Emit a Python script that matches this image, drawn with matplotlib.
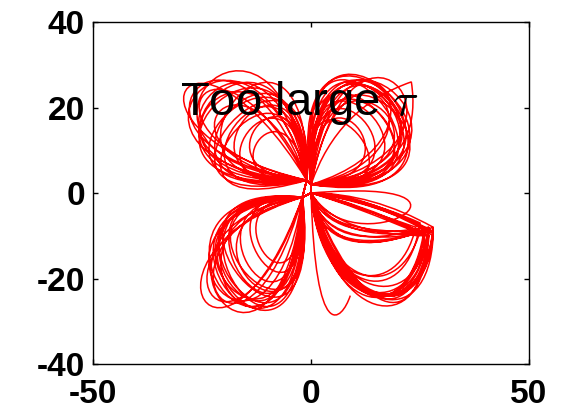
import matplotlib
matplotlib.use("Agg")
import matplotlib.pyplot as plt
from matplotlib.path import Path
from matplotlib.patches import PathPatch

# Delay-embedded trajectory, read off the picture as one Bezier loop per
# pass through each lobe: (outgoing control point, returning control point).
ul_out = [(-54, 0), (-52, 4), (-48, -4), (-55, 6), (-46, 0), (-42, -6), (-52, 10),
          (-38, 0), (-50, -8), (-54, 8), (-44, 12), (-34, -2), (-48, 14), (-55, -2),
          (-30, 4), (-50, 2), (-44, -10), (-40, 8), (-52, -4), (-26, 0)]
ul_back = [(-6, 56), (-10, 54), (-2, 52), (-14, 54), (0, 56), (-4, 46), (-18, 52),
           (-2, 44), (2, 50), (-8, 58), (-22, 46), (-4, 38), (-28, 48), (-4, 54),
           (-2, 36), (-12, 50), (-4, 44), (-16, 40), (0, 50), (-6, 30)]

ur_out = [(-4, 58), (-2, 54), (-6, 60), (0, 56), (-2, 48), (-8, 56), (4, 58),
          (-4, 46), (-6, 60), (2, 52), (6, 50), (0, 56), (-2, 42), (10, 54),
          (-4, 38), (2, 44), (-6, 52), (8, 46), (-2, 58), (0, 36)]
ur_back = [(50, -2), (48, 4), (48, -4), (52, 4), (44, 0), (50, 8), (48, -6),
           (40, 2), (52, 2), (50, -4), (38, 14), (46, 0), (34, 2), (44, 10),
           (32, -2), (42, 6), (46, -2), (36, 10), (52, 0), (28, 4)]

ll_out = [(-46, 2), (-44, 0), (-48, -2), (-40, 4), (-46, -8), (-46, 4), (-40, -10),
          (-44, 2), (-42, -6), (-48, 0), (-34, 0), (-42, -12), (-46, -2), (-44, -14),
          (-30, 2), (-46, -4), (-38, -6), (-48, 2), (-26, 0), (-42, 0)]
ll_back = [(0, -58), (-4, -56), (2, -60), (-2, -54), (-8, -58), (4, -56), (-16, -52),
           (0, -60), (-6, -56), (-2, -60), (-2, -46), (-18, -50), (-4, -54), (-20, -52),
           (0, -42), (-10, -54), (2, -48), (-6, -60), (-2, -36), (4, -50)]

# lower right lobe has a sharp tip: out to the tip, then round back
lr_tip = [(28, -9), (27, -8), (28, -10), (26, -9), (28, -8), (27, -10), (25, -7),
          (28, -9), (26, -10), (27, -8), (24, -8), (28, -9), (27, -9), (26, -8),
          (28, -9), (27, -9), (26, -10), (28, -8), (25, -9), (27, -10)]
lr_out = [(14, -1), (4, -12), (16, -2), (2, -16), (14, 0), (6, -10), (12, -1),
          (3, -14), (10, -2), (5, -18), (10, -3), (2, -10), (12, 0), (4, -15),
          (14, -2), (6, -12), (10, -3), (3, -18), (10, -2), (12, -3)]
lr_back1 = [(26, -34), (25, -32), (27, -34), (24, -32), (26, -30), (26, -36), (22, -28),
            (25, -34), (26, -32), (23, -30), (20, -26), (27, -32), (25, -36), (23, -32),
            (26, -32), (24, -30), (22, -30), (26, -34), (20, -26), (24, -32)]
lr_back2 = [(4, -26), (4, -28), (6, -28), (2, -26), (8, -30), (4, -30), (4, -24),
            (6, -26), (2, -28), (8, -32), (2, -22), (4, -28), (10, -28), (4, -30),
            (6, -28), (4, -24), (8, -30), (2, -26), (4, -22), (10, -30)]

# where the lobes meet
centre_ul = (-1, 3)
centre_ur = (0, 2)
centre_lr = (0, 0)
centre_ll = (-2, -1)

# first pass: up to the sharp corner top right of the upper right lobe
spike_ctrl = (6, 20)
spike_tip = (23, 26)
spike_back = [(26, 6), (10, 2)]

# last bits: small bump right of the origin, then the tail at the bottom
bump_ctrl = [(46, 4), (10, -18)]
tail_ctrl = [(1, -36), (7, -30)]
tail_end = (9, -24)


def main():
    c4 = [Path.CURVE4] * 3

    verts = [centre_ur, spike_ctrl, spike_tip, spike_back[0], spike_back[1], centre_ur]
    codes = [Path.MOVETO, Path.CURVE3, Path.CURVE3] + c4

    for i in range(len(ul_out)):
        verts += [centre_ul, ul_out[i], ul_back[i], centre_ul]
        codes += [Path.LINETO] + c4
        verts += [centre_ur, ur_out[i], ur_back[i], centre_ur]
        codes += [Path.LINETO] + c4
        verts += [centre_lr, lr_out[i], lr_tip[i], lr_back1[i], lr_back2[i], centre_lr]
        codes += [Path.LINETO, Path.CURVE3, Path.CURVE3] + c4
        verts += [centre_ll, ll_out[i], ll_back[i], centre_ll]
        codes += [Path.LINETO] + c4

    verts += [centre_lr, bump_ctrl[0], bump_ctrl[1], centre_lr]
    codes += [Path.LINETO] + c4
    verts += [tail_ctrl[0], tail_ctrl[1], tail_end]
    codes += c4

    plt.rcParams["font.family"] = ["Liberation Sans", "DejaVu Sans"]
    plt.rcParams["mathtext.fontset"] = "cm"
    plt.rcParams["axes.unicode_minus"] = False

    fig = plt.figure(figsize=(5.61, 4.12), dpi=100)
    ax = fig.add_axes([0.166, 0.1165, 0.777, 0.83])

    ax.add_patch(PathPatch(Path(verts, codes), facecolor="none",
                           edgecolor="red", linewidth=1.1))

    ax.text(-30, 18.3, r"Too large $\tau$", fontsize=34, va="baseline")

    ax.set_xlim(-50, 50)
    ax.set_ylim(-40, 40)
    ax.set_xticks([-50, 0, 50])
    ax.set_yticks([-40, -20, 0, 20, 40])
    ax.tick_params(direction="in", length=3.5, width=1, labelsize=24,
                   top=True, right=True)
    ax.tick_params(axis="x", pad=11)
    ax.tick_params(axis="y", pad=6)
    for lab in ax.get_xticklabels() + ax.get_yticklabels():
        lab.set_fontweight("bold")
    for sp in ax.spines.values():
        sp.set_linewidth(1.0)

    fig.savefig("out.png", dpi=100)
    plt.close()


if __name__ == "__main__":
    main()
